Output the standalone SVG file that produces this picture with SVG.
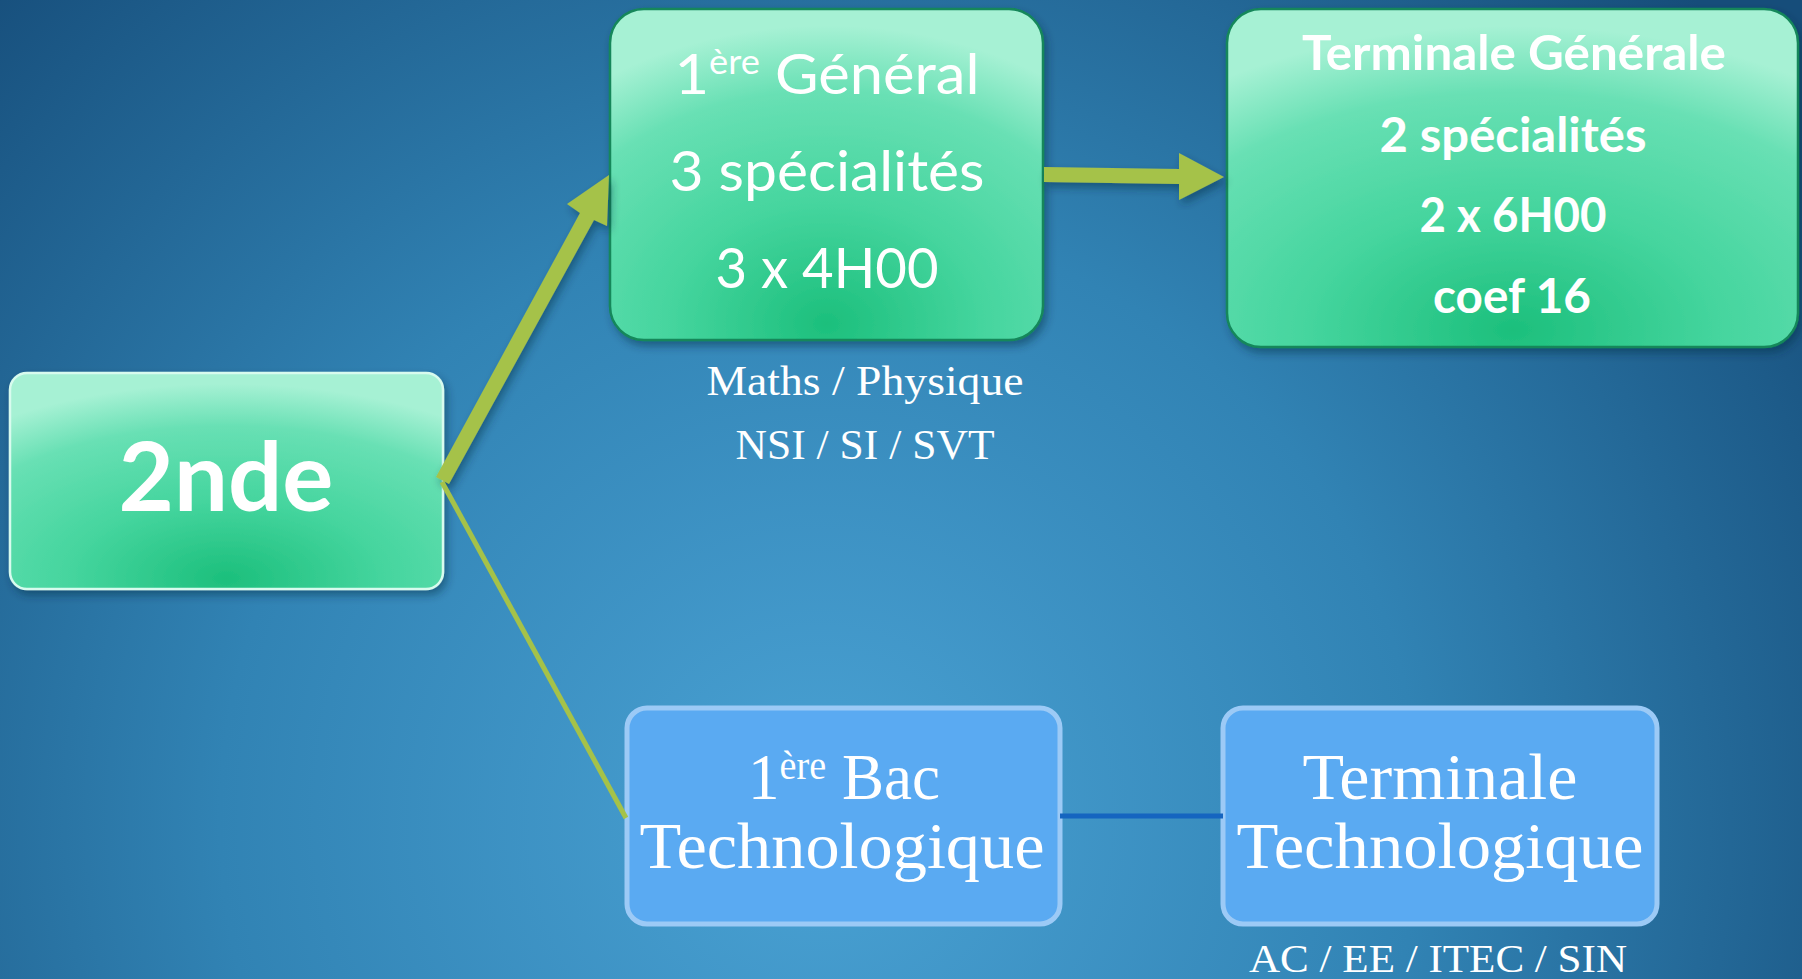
<svg xmlns="http://www.w3.org/2000/svg" width="1802" height="979" viewBox="0 0 1802 979">
<defs>
  <radialGradient id="bg" gradientUnits="userSpaceOnUse" cx="820" cy="820" r="1200">
    <stop offset="0" stop-color="#4aa2d4"/>
    <stop offset="0.5" stop-color="#3183b4"/>
    <stop offset="1" stop-color="#164d7a"/>
  </radialGradient>
  <radialGradient id="green" cx="0.5" cy="0.95" r="0.9">
    <stop offset="0" stop-color="#1cbf7c"/>
    <stop offset="0.4" stop-color="#45d59e"/>
    <stop offset="0.78" stop-color="#68e0b4"/>
    <stop offset="1" stop-color="#a6f1d4"/>
  </radialGradient>
  <filter id="shadow" x="-10%" y="-10%" width="125%" height="130%">
    <feDropShadow dx="3" dy="5" stdDeviation="4" flood-color="#0b2a40" flood-opacity="0.45"/>
  </filter>
  <style>
    .gbox { fill: url(#green); stroke: #12875a; stroke-width: 2.5; filter: url(#shadow); }
    .gbox2 { fill: url(#green); stroke: #d8fbee; stroke-width: 2.5; filter: url(#shadow); }
    .bbox { fill: #5aaaf2; stroke: #9ccaf6; stroke-width: 5; }
    .sans { font-family: Lato, "Open Sans", "Liberation Sans", sans-serif; fill: #ffffff; text-anchor: middle; }
    .bold { font-weight: bold; }
    .serif { font-family: "Liberation Serif", "DejaVu Serif", serif; fill: #ffffff; text-anchor: middle; }
    .arrow { fill: #a5c249; }
  </style>
</defs>
<rect x="0" y="0" width="1802" height="979" fill="url(#bg)"/>

<g id="node-2nde">
  <rect class="gbox2" x="10" y="373" width="433" height="216" rx="17"/>
  <text class="sans bold" x="226" y="511" font-size="96" textLength="215" lengthAdjust="spacingAndGlyphs">2nde</text>
</g>

<g id="node-1ere-general">
  <rect class="gbox" x="610" y="9" width="433" height="331" rx="34"/>
  <text class="sans" x="827" y="94" font-size="56" textLength="305" lengthAdjust="spacingAndGlyphs">1<tspan font-size="34" dy="-20">ère</tspan><tspan dy="20"> Général</tspan></text>
  <text class="sans" x="827" y="191" font-size="56" textLength="315" lengthAdjust="spacingAndGlyphs">3 spécialités</text>
  <text class="sans" x="827" y="288" font-size="56" textLength="223" lengthAdjust="spacingAndGlyphs">3 x 4H00</text>
</g>

<g id="label-general">
  <text class="serif" x="865" y="395" font-size="42" textLength="317" lengthAdjust="spacingAndGlyphs">Maths / Physique</text>
  <text class="serif" x="865" y="459" font-size="42" textLength="259" lengthAdjust="spacingAndGlyphs">NSI / SI / SVT</text>
</g>

<g id="node-terminale-generale">
  <rect class="gbox" x="1227" y="9" width="571" height="338" rx="34"/>
  <text class="sans bold" x="1514" y="70" font-size="47" textLength="424" lengthAdjust="spacingAndGlyphs">Terminale Générale</text>
  <text class="sans bold" x="1513" y="152" font-size="47" textLength="267" lengthAdjust="spacingAndGlyphs">2 spécialités</text>
  <text class="sans bold" x="1513" y="232" font-size="47" textLength="187" lengthAdjust="spacingAndGlyphs">2 x 6H00</text>
  <text class="sans bold" x="1512" y="313" font-size="47" textLength="158" lengthAdjust="spacingAndGlyphs">coef 16</text>
</g>

<g id="node-1ere-techno">
  <rect class="bbox" x="627" y="708" width="433" height="216" rx="20"/>
  <text class="serif" x="844" y="799" font-size="66" textLength="192" lengthAdjust="spacingAndGlyphs">1<tspan font-size="40" dy="-20">ère</tspan><tspan dy="20"> Bac</tspan></text>
  <text class="serif" x="842" y="868" font-size="66" textLength="405" lengthAdjust="spacingAndGlyphs">Technologique</text>
</g>

<g id="node-terminale-techno">
  <rect class="bbox" x="1223" y="708" width="434" height="216" rx="20"/>
  <text class="serif" x="1440" y="799" font-size="66" textLength="275" lengthAdjust="spacingAndGlyphs">Terminale</text>
  <text class="serif" x="1440" y="868" font-size="66" textLength="407" lengthAdjust="spacingAndGlyphs">Technologique</text>
</g>

<g id="label-techno">
  <text class="serif" x="1438" y="972" font-size="41" textLength="378" lengthAdjust="spacingAndGlyphs">AC / EE / ITEC / SIN</text>
</g>

<g id="connectors">
  <polygon class="arrow" filter="url(#shadow)" points="436,477 580,213 567,204 609,175 607,226 594,220 449,484"/>
  <line x1="442" y1="482" x2="626" y2="818" stroke="#a5c249" stroke-width="5"/>
  <polygon class="arrow" filter="url(#shadow)" points="1044,167 1179,169 1179,153 1224,177 1179,200 1179,184 1044,182"/>
  <line x1="1060" y1="816" x2="1223" y2="816" stroke="#1565c0" stroke-width="5"/>
</g>
</svg>
